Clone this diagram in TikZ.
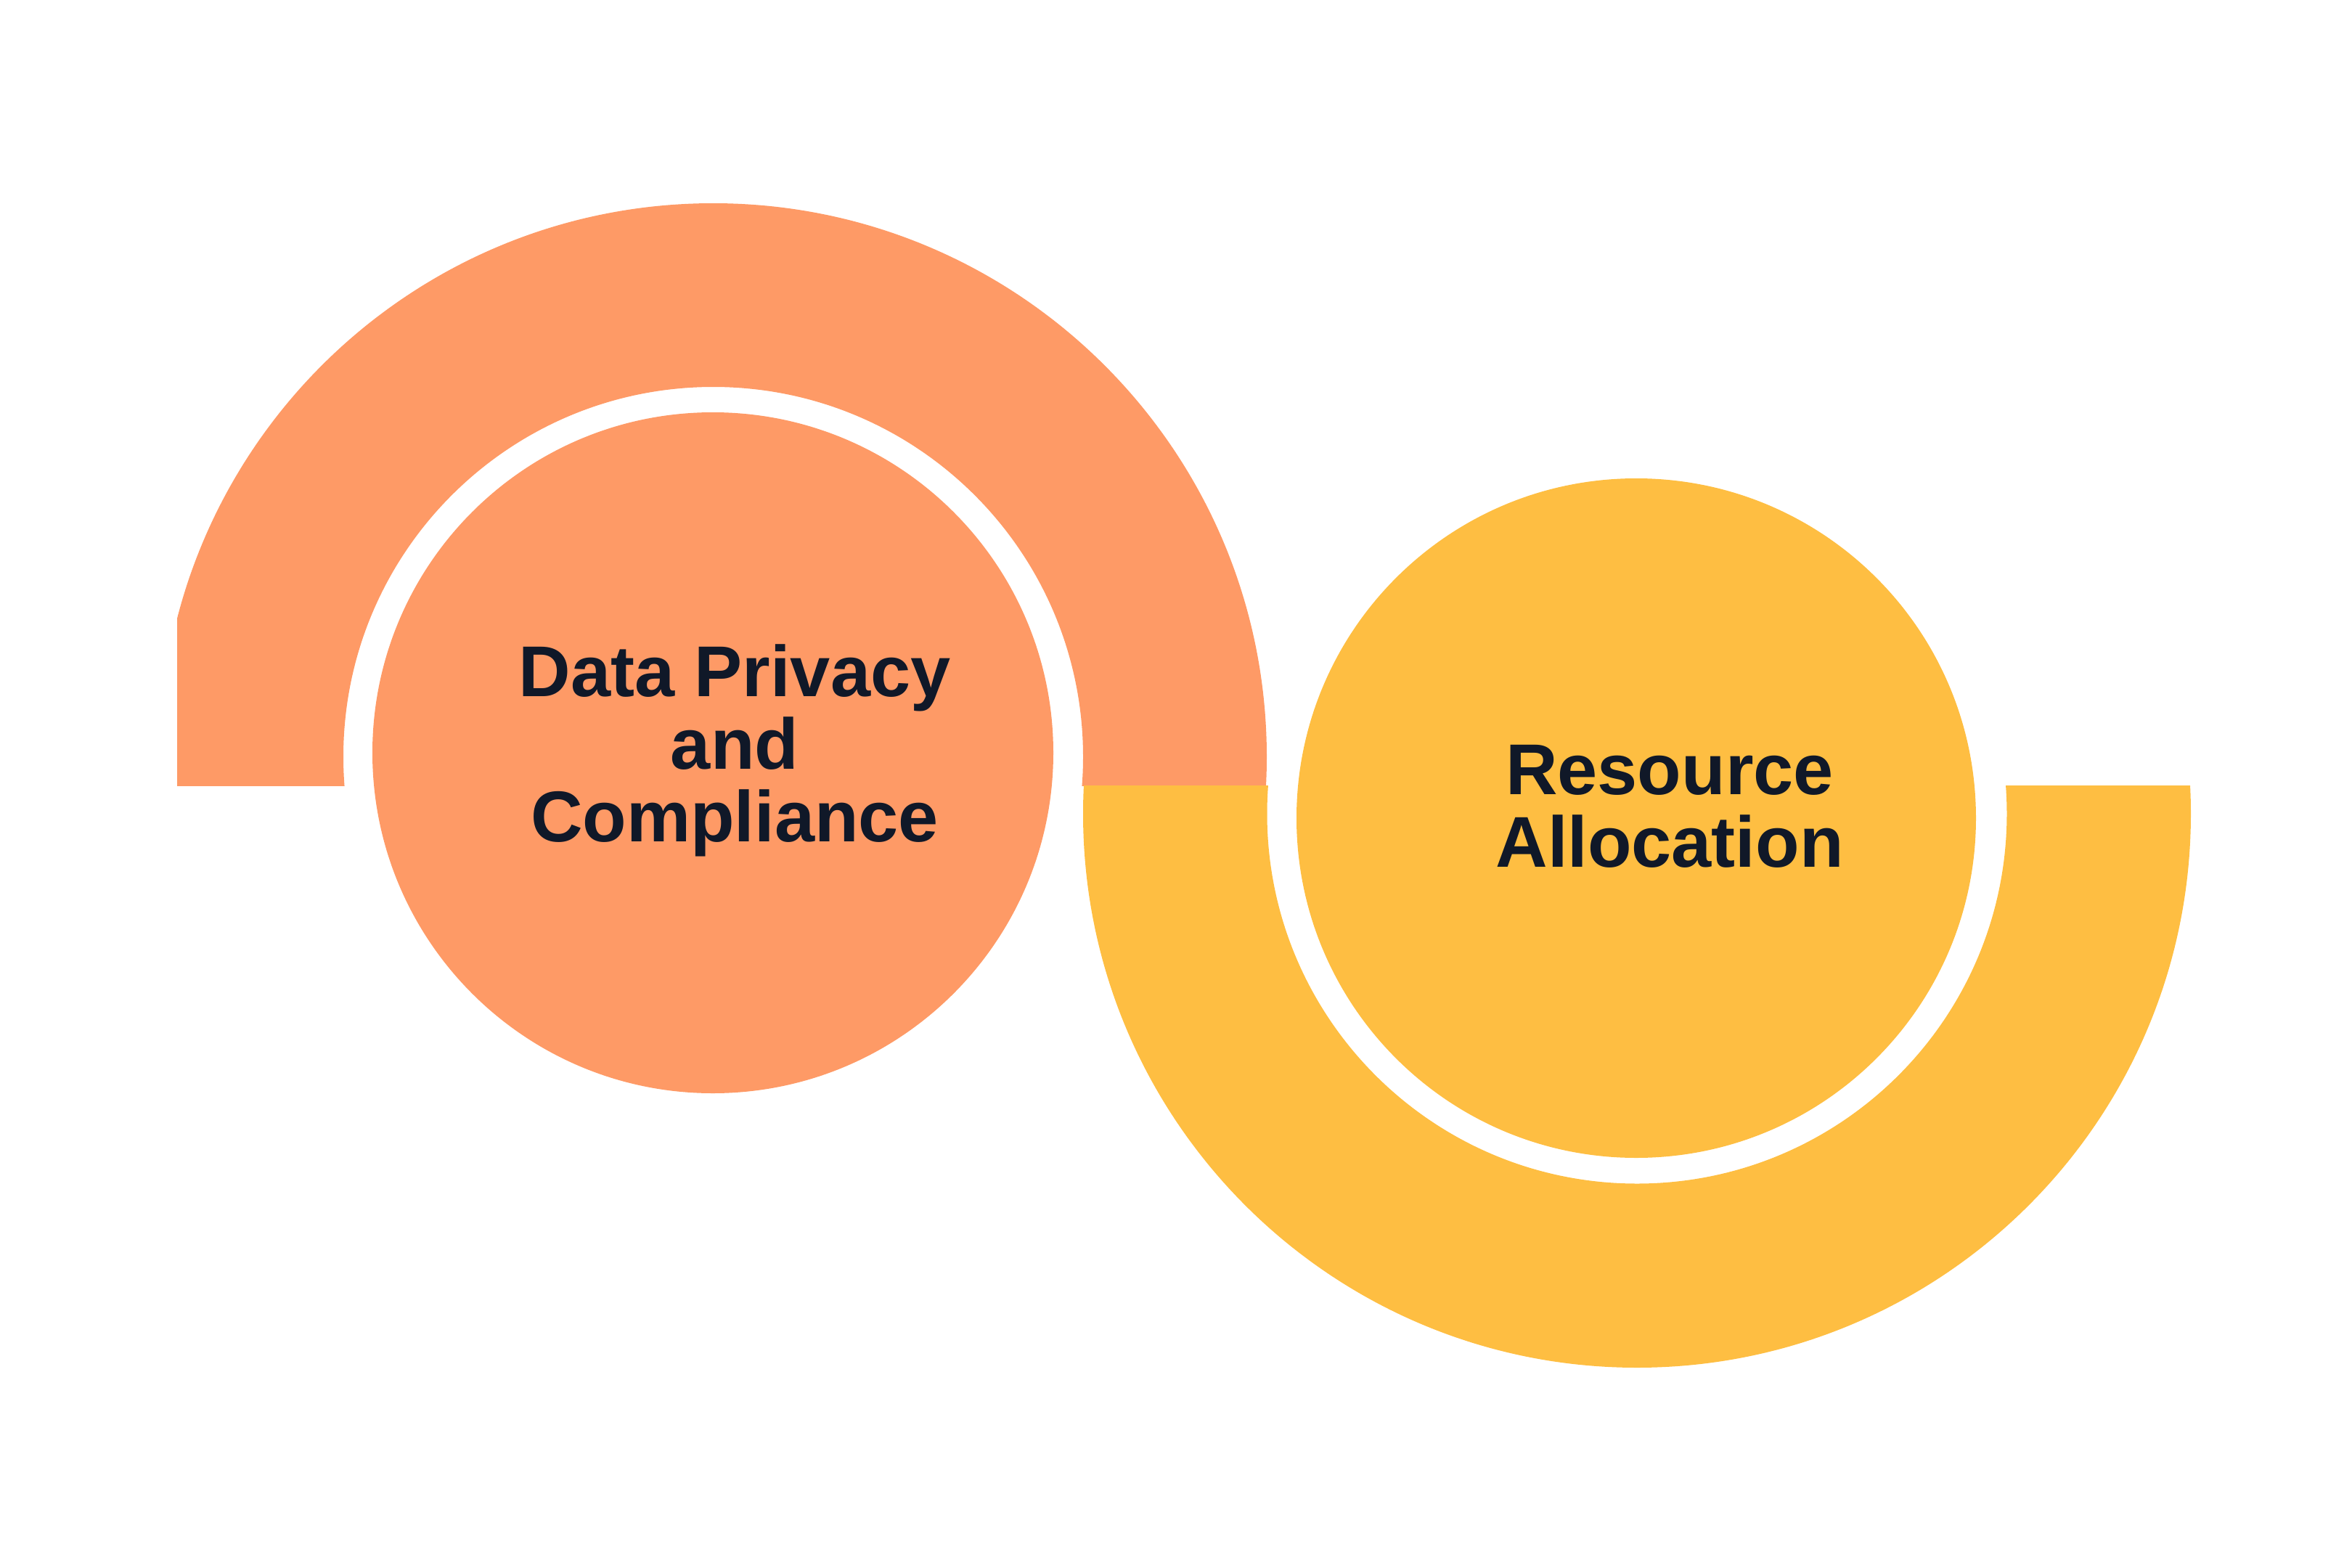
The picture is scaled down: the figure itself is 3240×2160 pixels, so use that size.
\documentclass[tikz,border=0pt]{standalone}
\usepackage{fontspec}
\setmainfont{Liberation Sans}
\usepackage{xcolor}
\usepackage{tikz}

\definecolor{privorange}{HTML}{FE9A66}
\definecolor{resyellow}{HTML}{FEBE42}
\definecolor{labelnavy}{HTML}{101828}

\begin{document}
\begin{tikzpicture}[
    x=0.1mm, y=-0.1mm,
    ring/.style={even odd rule},
    label/.style={align=center, inner sep=0pt, text=labelnavy, font=\fontsize{28.2}{28.5}\selectfont\bfseries}
]
\useasboundingbox (0,0) rectangle (3240,2160);

% Half rings
\begin{scope}
  \clip (244,0) rectangle (3240,1082);
  \fill[privorange, ring] (982.5,1042.5) circle[radius=762.5] (982.5,1042.5) circle[radius=509.5];
\end{scope}
\begin{scope}
  \clip (0,1082) rectangle (3018,2160);
  \fill[resyellow, ring] (2255,1121) circle[radius=763] (2255,1121) circle[radius=509.5];
\end{scope}

% Inner disks
\fill[privorange] (982,1037) circle[radius=469];
\fill[resyellow] (2254,1127) circle[radius=468];

% Labels
\node[label] (privacy) at (1012,1034) {Data Privacy\\and\\Compliance};
\node[label] (resource) at (2300,1111) {Resource\\Allocation};

\end{tikzpicture}
\end{document}
